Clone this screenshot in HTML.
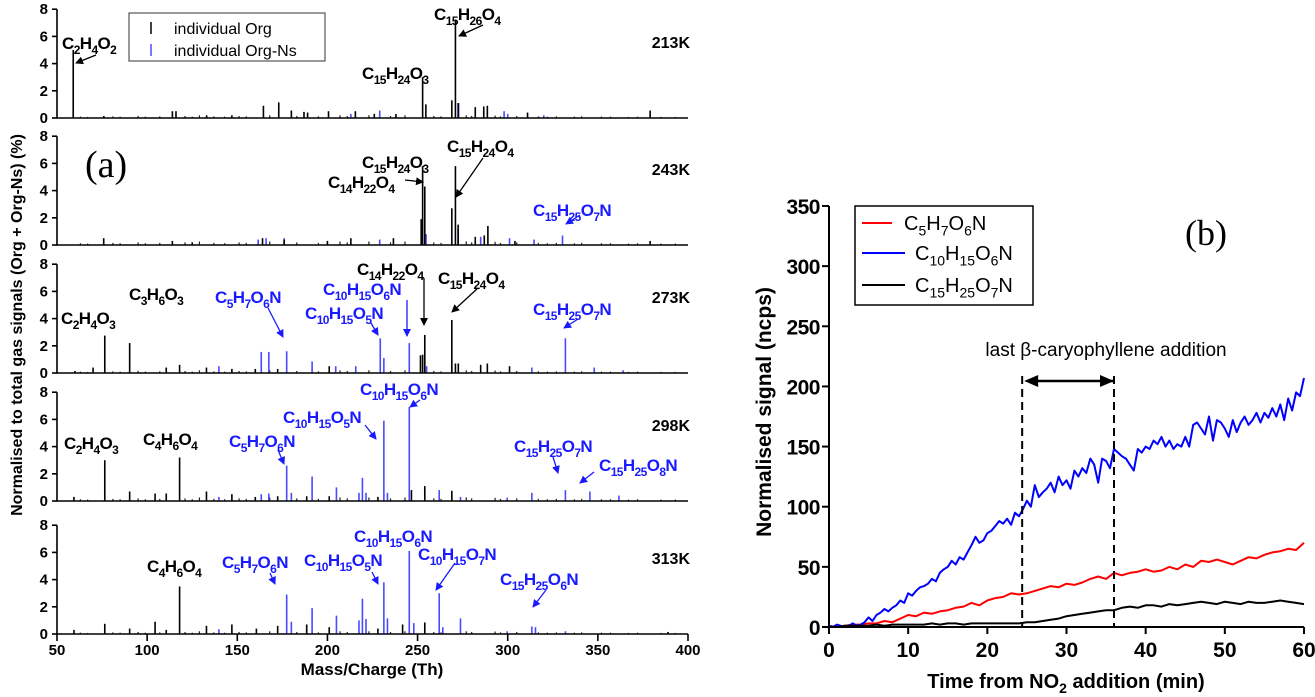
<!DOCTYPE html>
<html><head><meta charset="utf-8"><style>
html,body{margin:0;padding:0;background:#fff;}
svg{display:block;font-family:"Liberation Sans",Arial,sans-serif;}
</style></head><body>
<svg id="fig" width="1315" height="697" viewBox="0 0 1315 697" xmlns="http://www.w3.org/2000/svg">
<defs>
<marker id="ah" markerWidth="8" markerHeight="8" refX="7" refY="4" orient="auto" markerUnits="userSpaceOnUse"><path d="M0,0 L8,4 L0,8 z" fill="#000"/></marker>
<marker id="ahb" markerWidth="8" markerHeight="8" refX="7" refY="4" orient="auto" markerUnits="userSpaceOnUse"><path d="M0,0 L8,4 L0,8 z" fill="#1a1aff"/></marker>
<marker id="ahL" markerWidth="14" markerHeight="12" refX="13" refY="6" orient="auto" markerUnits="userSpaceOnUse"><path d="M0,0 L14,6 L0,12 z" fill="#000"/></marker>
</defs>
<g id="pa"></g>
<g id="pb"></g>
</svg>
<script>
// ---------- Panel (a) data ----------
const panelTemps = ["213K","243K","273K","298K","313K"];
const massTicks = [50,100,150,200,250,300,350,400];
const intensityTicks = [0,2,4,6,8];
const org1Mz = [59,76,114,116,164.5,173,180,187,189,200.6,215.5,226,252.8,254.6,269,271,272.5,282,286.7,288.7,311,379,133,147,238];
const org1Val= [5,0.15,0.5,0.5,0.9,1.15,0.55,0.45,0.4,0.5,0.5,0.3,3.0,1.0,1.3,7.2,1.1,0.8,0.85,0.9,0.4,0.55,0.2,0.2,0.3];
const orgN1Mz = [213,229,272.8,298,300,320];
const orgN1Val= [0.3,0.55,1.1,0.5,0.3,0.2];
const org2Mz = [75.9,114,164,176,200,213,236.6,252,252.8,254,269,271,272.5,282,287,289,379,125,304];
const org2Val= [0.5,0.3,0.5,0.4,0.3,0.5,0.5,1.9,5.8,4.3,2.7,5.8,1.5,0.6,0.7,1.4,0.3,0.2,0.3];
const orgN2Mz = [161.6,166,176,229,254.7,272.5,285,301,314.6,330.4];
const orgN2Val= [0.4,0.5,0.5,0.4,0.8,1.2,0.6,0.5,0.4,0.7];
const org3Mz = [70,76.5,90.3,110.6,118,132.9,147,172.4,201,251.6,252.8,254,269,271,272.6,285,288.7,301,60,160];
const org3Val= [0.4,2.75,2.2,0.4,0.6,0.4,0.3,0.3,0.5,1.3,1.35,2.8,3.9,0.7,0.7,0.6,0.7,0.5,0.15,0.3];
const orgN3Mz = [139.8,163.3,167.5,177.4,191.5,204.6,215.7,229.3,231.3,245.4,255,313.4,332,348,364];
const orgN3Val= [0.5,1.55,1.55,1.6,0.85,0.5,0.5,2.55,1.1,2.2,0.5,0.4,2.55,0.4,0.2];
const org4Mz = [59.4,76.5,90.3,104.4,110.6,118,132.9,147,172.4,188.5,201,246.6,254,269,160,228];
const org4Val= [0.3,3.0,0.7,0.55,0.55,3.2,0.7,0.5,0.35,0.35,0.35,0.8,1.1,0.75,0.3,0.3];
const orgN4Mz = [139.8,163.3,167.5,177.4,180,191.5,205,217.5,219.4,221.4,231.3,233.3,245.4,262,273.8,299.7,313.4,332,345.6,361.7];
const orgN4Val= [0.3,0.5,0.55,2.6,0.6,1.8,1.0,0.6,1.7,0.6,5.9,0.6,6.9,0.8,0.3,0.25,0.6,0.8,0.7,0.4];
const org5Mz = [59.4,76.5,90.3,104.4,110.6,118,132.9,147,160.6,172.4,188.5,201,241.7,254,388.9,228];
const org5Val= [0.3,0.75,0.4,0.9,0.3,3.5,0.6,0.7,0.4,0.6,0.7,0.5,0.7,0.85,0.15,0.4];
const orgN5Mz = [139.8,177.4,180,191.5,205,217.5,219.4,221.4,231.3,233.3,245.4,247.9,262,264,273.8,299.7,313.4,315.4,332];
const orgN5Val= [0.35,2.9,0.9,1.9,1.35,1.0,2.6,1.1,3.8,1.15,6.1,0.8,3.0,0.5,1.15,0.2,0.55,0.5,0.2];
const minorMz = [63,67,81,85,95,99,107,121,125,129,137,143,151,155,168,183,195,207,211,223,235,243,259,263,277,280,293,296,305,317,322,327,337,341,352,357,367,372,385,393];
const minorVal= [0.1,0.08,0.12,0.1,0.15,0.1,0.12,0.15,0.1,0.2,0.12,0.1,0.15,0.12,0.2,0.15,0.12,0.2,0.15,0.2,0.15,0.2,0.15,0.12,0.2,0.15,0.18,0.12,0.15,0.12,0.1,0.12,0.1,0.12,0.1,0.1,0.08,0.1,0.08,0.08];

// ---------- Panel (b) data ----------
const timeTicks = [0,10,20,30,40,50,60];
const signalTicks = [0,50,100,150,200,250,300,350];
const blueSeries = [1,0,2,1,0,1,3,1,2,4, 8,5,10,12,15,13,16,18,22,20, 28,26,30,33,34,36,40,38,45,48,
 50,55,52,58,56,62,68,75,70,72, 78,80,84,88,86,90,85,95,92,98, 105,100,118,108,112,115,120,112,125,118,
 122,115,130,125,132,128,140,135,120,140, 138,132,148,145,142,140,135,130,148,145, 150,148,155,152,158,150,155,148,152,150,
 158,150,168,170,165,160,175,155,172,170, 165,158,172,162,170,175,168,172,178,170, 178,174,182,175,185,172,190,180,195,192, 207];
const redSeries = [1,0,1,2,2,3,3,5,4,7,10,9,12,11,13,14,16,17,20,18,22,24,25,28,27,28,30,32,34,33,36,35,37,40,42,40,45,43,45,46,48,46,47,50,48,52,50,55,54,56,54,52,55,58,57,60,62,63,65,64,70];
const blackSeries = [0,0,1,1,1,1,2,1,2,2,2,2,2,3,2,3,3,2,3,3,3,3,3,3,3,4,4,5,6,7,9,10,11,12,13,14,14,16,17,16,18,18,17,19,18,19,20,21,20,19,21,20,19,21,20,20,21,22,21,20,19];
const dashTimes = [24.4,36];

const NS="http://www.w3.org/2000/svg";
function mk(tag,attrs,parent){const e=document.createElementNS(NS,tag);for(const k in attrs)e.setAttribute(k,attrs[k]);parent.appendChild(e);return e;}
function chem(el,str,size){
  const parts=str.match(/\d+|[^\d]+/g);
  parts.forEach(p=>{const t=document.createElementNS(NS,'tspan');t.textContent=p;
    if(/^\d+$/.test(p)){t.setAttribute('font-size',Math.round(size*0.72));t.setAttribute('dy',size*0.28);}
    else{t.setAttribute('dy',el._sub?-size*0.28:0);}
    el._sub=/^\d+$/.test(p);el.appendChild(t);});
}

const pa=document.getElementById('pa');
const X0=57, X1=688;
const xa=m=>X0+(m-50)/350*(X1-X0);
const zeros=[118,245,373,501,634];
const pxPer=13.6;
const orgMzs=[org1Mz,org2Mz,org3Mz,org4Mz,org5Mz], orgVals=[org1Val,org2Val,org3Val,org4Val,org5Val];
const nMzs=[orgN1Mz,orgN2Mz,orgN3Mz,orgN4Mz,orgN5Mz], nVals=[orgN1Val,orgN2Val,orgN3Val,orgN4Val,orgN5Val];

for(let p=0;p<5;p++){
  const z=zeros[p];
  const ya=v=>z-v*pxPer;
  const g=mk('g',{},pa);
  
  
  minorMz.forEach((m,i)=>{const l=mk('line',{x1:xa(m),x2:xa(m),y1:z,y2:ya(minorVal[i]*(1+0.3*(p%2))),stroke:'#222','stroke-width':1.2},g);
    });
  nMzs[p].forEach((m,i)=>{const l=mk('line',{x1:xa(m),x2:xa(m),y1:z,y2:ya(nVals[p][i]),stroke:'#4a4aff','stroke-width':1.6},g);
    });
  orgMzs[p].forEach((m,i)=>{const l=mk('line',{x1:xa(m),x2:xa(m),y1:z,y2:ya(orgVals[p][i]),stroke:'#000','stroke-width':1.6},g);
    });
  const ax=mk('path',{d:`M${X0},${ya(8)}V${z}H${X1}`,stroke:'#000','stroke-width':1.6,fill:'none'},g);
  
  intensityTicks.forEach(v=>{mk('line',{x1:X0-5,x2:X0,y1:ya(v),y2:ya(v),stroke:'#000','stroke-width':1.6},g);
    const t=mk('text',{x:X0-9,y:ya(v)+5,'text-anchor':'end','font-size':15,'font-weight':'bold'},g);t.textContent=v;
    });
  const tt=mk('text',{x:690,y:z-70,'text-anchor':'end','font-size':16,'font-weight':'bold'},g);tt.textContent=panelTemps[p];
  
}
massTicks.forEach(m=>{mk('line',{x1:xa(m),x2:xa(m),y1:634,y2:641,stroke:'#000','stroke-width':1.6},pa);
  const t=mk('text',{x:xa(m),y:655,'text-anchor':'middle','font-size':15,'font-weight':'bold'},pa);t.textContent=m;
  });
{const t=mk('text',{x:372,y:675,'text-anchor':'middle','font-size':17,'font-weight':'bold'},pa);t.textContent='Mass/Charge (Th)';
 
 const y=mk('text',{x:0,y:0,'text-anchor':'middle','font-size':16,'font-weight':'bold',transform:'translate(22,325) rotate(-90)'},pa);
 y.textContent='Normalised to total gas signals (Org + Org-Ns) (%)';
 
 const a=mk('text',{x:85,y:177,'font-size':38,'font-family':'"Liberation Serif",serif'},pa);a.textContent='(a)';
 }
{const lg=mk('g',{},pa);
 mk('rect',{x:129,y:13,width:196,height:48,fill:'#fff',stroke:'#333','stroke-width':1},lg);
 mk('line',{x1:151,x2:151,y1:22,y2:34,stroke:'#000','stroke-width':1.5},lg);
 mk('line',{x1:151,x2:151,y1:44,y2:56,stroke:'#4a4aff','stroke-width':1.5},lg);
 const t1=mk('text',{x:174,y:34,'font-size':16},lg);t1.textContent='individual Org';
 
 const t2=mk('text',{x:174,y:56,'font-size':16},lg);t2.textContent='individual Org-Ns';
 }
const ann=[
 ["C2H4O2",62,43,0,96,55,76,63],["C15H26O4",434,14,0,483,25,459,36],["C15H24O3",362,73,0],
 ["C15H24O3",362,162,0],["C14H22O4",328,182,0,405,180,423,182],["C15H24O4",447,146,0,483,158,456,197],["C15H25O7N",533,210,1,580,215,566,224],
 ["C2H4O3",61,318,0],["C3H6O3",129,294,0],["C5H7O6N",215,297,1,268,308,283,337],["C10H15O6N",323,289,1,407,300,407,336],
 ["C10H15O5N",305,313,1,371,323,378,335],["C14H22O4",357,269,0,424,278,424,325],["C15H24O4",438,278,0,478,288,452,312],["C15H25O7N",533,309,1,578,319,564,328],
 ["C2H4O3",64,443,0],["C4H6O4",143,439,0],["C5H7O6N",229,441,1,278,450,284,464],["C10H15O5N",283,417,1,365,425,376,439],["C10H15O6N",360,389,1,420,400,410,407],
 ["C15H25O7N",514,446,1,553,457,558,473],["C15H25O8N",599,465,1,594,472,580,483],
 ["C4H6O4",147,566,0],["C5H7O6N",222,562,1,270,573,275,584],["C10H15O5N",304,560,1,372,572,378,584],["C10H15O6N",354,536,1],
 ["C10H15O7N",418,554,1,455,563,436,590],["C15H25O6N",500,579,1,546,590,533,607]
];
ann.forEach(a=>{const col=a[3]?'#1a1aff':'#000';
  const t=mk('text',{x:a[1],y:a[2]+6,'font-size':17,'font-weight':'bold',fill:col,'letter-spacing':'-0.6'},pa);
  chem(t,a[0],17);
  if(a.length>4){const l=mk('line',{x1:a[4],y1:a[5],x2:a[6],y2:a[7],stroke:col,'stroke-width':1.3,'marker-end':a[3]?'url(#ahb)':'url(#ah)'},pa);
    }
});

// ---------- Panel (b) ----------
const pb=document.getElementById('pb');
const BX0=829,BX1=1304,BY0=627,BY1=206;
const xb=t=>BX0+t/60*(BX1-BX0);
const yb=v=>BY0-v/350*(BY0-BY1);
function series(arr,step,color,name){
  let d='';arr.forEach((v,i)=>{d+=(i?'L':'M')+xb(i*step).toFixed(1)+','+yb(v).toFixed(1);});
  const p=mk('path',{d:d,stroke:color,'stroke-width':2,fill:'none','stroke-linejoin':'round'},pb);
  }
series(redSeries,1,'#ff0000','series-c5h7o6n');
series(blueSeries,0.5,'#0000ff','series-c10h15o6n');
series(blackSeries,1,'#000','series-c15h25o7n');
dashTimes.forEach(t=>{const l=mk('line',{x1:xb(t),x2:xb(t),y1:376,y2:BY0,stroke:'#000','stroke-width':2,'stroke-dasharray':'8,5'},pb);
  });
{const l=mk('line',{x1:xb(dashTimes[0])+14,x2:xb(dashTimes[1])-1,y1:381,y2:381,stroke:'#000','stroke-width':2.5,'marker-end':'url(#ahL)'},pb);
 
 const h=mk('path',{d:`M${xb(dashTimes[0])+2},381 l14,-6 v12 z`,fill:'#000'},pb);
 const t=mk('text',{x:1106,y:356,'text-anchor':'middle','font-size':19},pb);t.textContent='last β-caryophyllene addition';
 }
{const ax=mk('path',{d:`M${BX0},${BY1}V${BY0}H${BX1}`,stroke:'#000','stroke-width':2,fill:'none'},pb);
 }
signalTicks.forEach(v=>{mk('line',{x1:BX0-7,x2:BX0,y1:yb(v),y2:yb(v),stroke:'#000','stroke-width':2},pb);
  const t=mk('text',{x:BX0-9,y:yb(v)+8,'text-anchor':'end','font-size':21,'font-weight':'bold','letter-spacing':'-0.5'},pb);t.textContent=v;
  });
timeTicks.forEach(v=>{mk('line',{x1:xb(v),x2:xb(v),y1:BY0,y2:BY0+7,stroke:'#000','stroke-width':2},pb);
  const t=mk('text',{x:xb(v),y:657,'text-anchor':'middle','font-size':21,'font-weight':'bold'},pb);t.textContent=v;
  });
{const t=mk('text',{x:1066,y:688,'text-anchor':'middle','font-size':20,'font-weight':'bold'},pb);
 t.appendChild(document.createTextNode('Time from NO'));
 const s=document.createElementNS(NS,'tspan');s.setAttribute('font-size',14);s.setAttribute('dy',5);s.textContent='2';t.appendChild(s);
 const r=document.createElementNS(NS,'tspan');r.setAttribute('dy',-5);r.textContent=' addition (min)';t.appendChild(r);
 
 const y=mk('text',{x:0,y:0,'text-anchor':'middle','font-size':21,'font-weight':'bold',transform:'translate(771,412) rotate(-90)'},pb);
 y.textContent='Normalised signal (ncps)';
 const b=mk('text',{x:1185,y:245,'font-size':36,'font-family':'"Liberation Serif",serif'},pb);b.textContent='(b)';
 }
{const lg=mk('g',{},pb);
 mk('rect',{x:855,y:206,width:178,height:99,fill:'#fff',stroke:'#000','stroke-width':1.5},lg);
 const ents=[["C5H7O6N",'#ff0000',223,904],["C10H15O6N",'#0000ff',253,915],["C15H25O7N",'#000',285,915]];
 ents.forEach(e=>{mk('line',{x1:862,x2:(e[0]==="C5H7O6N"?892:905),y1:e[2],y2:e[2],stroke:e[1],'stroke-width':2},lg);
   const t=mk('text',{x:e[3],y:e[2]+7,'font-size':20},lg);chem(t,e[0],20);
   });}
</script>
</body></html>
